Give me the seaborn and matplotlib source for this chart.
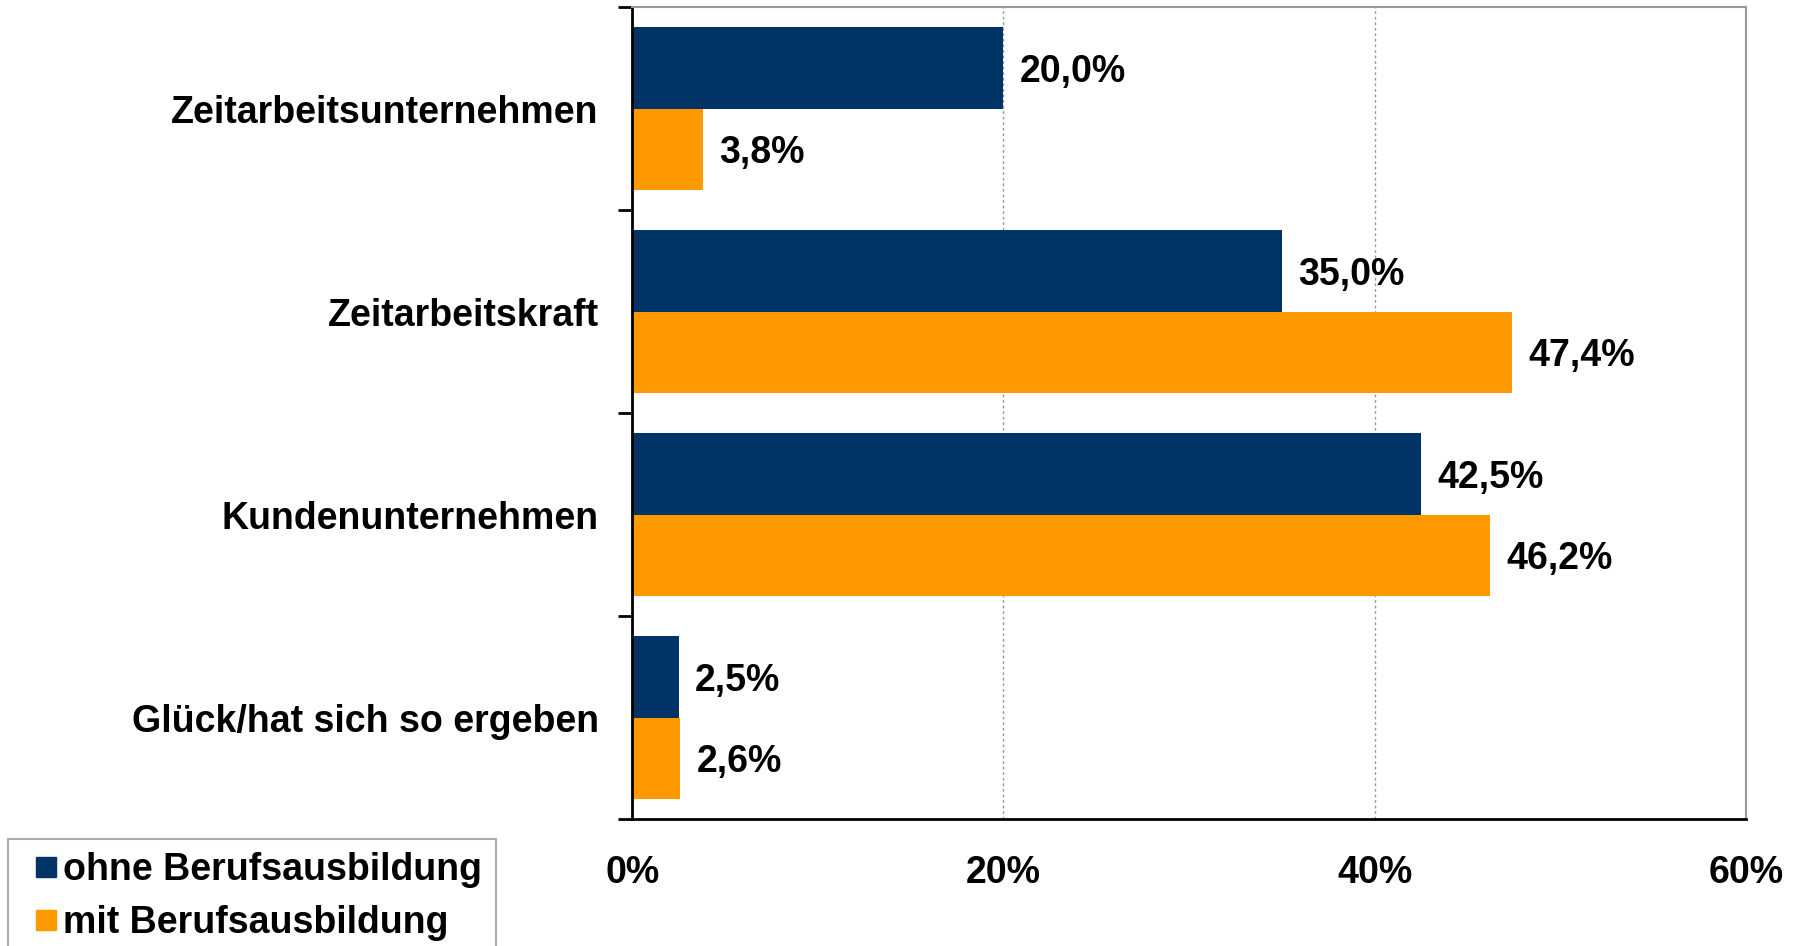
import numpy as np
import pandas as pd
import matplotlib
matplotlib.use('Agg')
import matplotlib.pyplot as plt
from matplotlib.lines import Line2D
from matplotlib.ticker import FixedLocator, PercentFormatter
import seaborn as sns

# Data
categories = ['Zeitarbeitsunternehmen', 'Zeitarbeitskraft',
              'Kundenunternehmen', 'Glück/hat sich so ergeben']
groups     = ['ohne Berufsausbildung', 'mit Berufsausbildung']
ohne       = [20.0, 35.0, 42.5, 2.5]
mit        = [3.8, 47.4, 46.2, 2.6]
colors     = ['#003366', '#FF9900']

df = pd.DataFrame({
    'Kategorie': categories * 2,
    'Gruppe':    np.repeat(groups, len(categories)),
    'Wert':      ohne + mit,
})

sns.set_style('white')
plt.rcParams['font.family'] = ['Liberation Sans', 'DejaVu Sans']
plt.rcParams['font.weight'] = 'bold'
plt.rcParams['text.color'] = 'black'
plt.rcParams['xtick.color'] = 'black'
plt.rcParams['ytick.color'] = 'black'
plt.rcParams['xtick.labelcolor'] = 'black'
plt.rcParams['ytick.labelcolor'] = 'black'

fig, ax = plt.subplots(figsize=(18.01, 9.46), dpi=100)
fig.subplots_adjust(left=0.351, right=0.9695, top=0.9926, bottom=0.1342)

sns.barplot(data=df, y='Kategorie', x='Wert', hue='Gruppe',
            order=categories, hue_order=groups, palette=colors,
            orient='h', width=0.8, saturation=1, linewidth=0,
            ax=ax, legend=False)

# value labels with German decimal comma
for cont in ax.containers:
    texts = ax.bar_label(cont, labels=[f'{v:.1f}%'.replace('.', ',') for v in cont.datavalues],
                         padding=12, fontsize=27, fontweight='bold', color='black')
    for t in texts:
        t.xyann = (12, -3)   # sit a touch below the bar centre, as in the original

ax.set_xlim(0, 60)
ax.set_ylim(3.5, -0.5)
ax.set_xticks([0, 20, 40, 60])
ax.xaxis.set_major_formatter(PercentFormatter(decimals=0))
ax.grid(axis='x', color='#999999', linestyle=(0, (2, 2)), linewidth=1)
ax.set_axisbelow(True)
ax.set_xlabel('')
ax.set_ylabel('')

ax.tick_params(axis='x', which='major', direction='out', length=10, width=2,
               color='black', labelsize=27, pad=16)
ax.tick_params(axis='y', which='major', length=0, labelsize=27, pad=24)
ax.yaxis.set_minor_locator(FixedLocator(np.arange(-0.5, 4.0, 1.0)))
ax.tick_params(axis='y', which='minor', direction='out', length=10, width=2,
               color='black', left=True)
for lab in ax.get_xticklabels() + ax.get_yticklabels():
    lab.set_fontweight('bold')

ax.spines['left'].set_color('black')
ax.spines['left'].set_linewidth(2)
ax.spines['bottom'].set_color('black')
ax.spines['bottom'].set_linewidth(2)
ax.spines['top'].set_color('#999999')
ax.spines['right'].set_color('#999999')
ax.spines['top'].set_linewidth(1.5)
ax.spines['right'].set_linewidth(1.5)

handles = [Line2D([], [], marker='s', linestyle='', markersize=14,
                  markerfacecolor=c, markeredgecolor=c) for c in colors]
leg = fig.legend(handles, groups, loc='upper left',
                 bbox_to_anchor=(0.0044, 0.1131), frameon=True, fancybox=False,
                 edgecolor='#999999', handlelength=1.33,
                 handletextpad=-0.2, labelspacing=0.45, borderpad=0.35,
                 borderaxespad=0, prop={'weight': 'bold', 'size': 27})
leg.get_frame().set_linewidth(1.5)

fig.savefig('out.png', dpi=100)
